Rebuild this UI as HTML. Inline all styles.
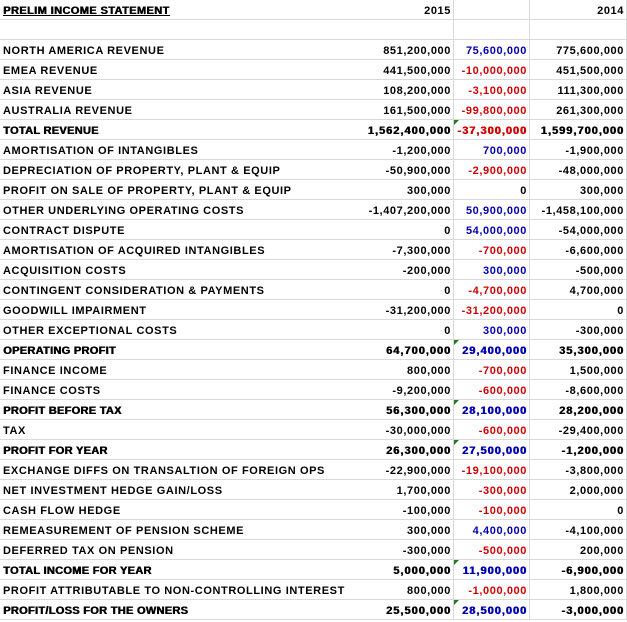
<!DOCTYPE html>
<html><head><meta charset="utf-8"><style>
body{margin:0;width:627px;height:622px;background:#fff;overflow:hidden;font-family:"Liberation Sans",Arial,sans-serif;}
#sheet{position:relative;width:627px;height:622px;}
.c{position:absolute;height:20px;line-height:22px;font-size:11px;font-weight:bold;color:#000;white-space:nowrap;box-sizing:border-box;border-bottom:1px solid #d9d9d9;}
.l{padding-left:3px;letter-spacing:0.6px;}
.r{text-align:right;padding-right:2px;border-right:1px solid #d9d9d9;letter-spacing:0.6px;}
.b{text-shadow:0.6px 0 0 currentColor;}
.l.b{letter-spacing:0.3px;}
.r.b{letter-spacing:1px;}
.pos{color:#0000b0;}
.neg{color:#d00000;}
.tri{position:absolute;left:0;top:0;width:0;height:0;border-top:5px solid #1e7b1e;border-right:5px solid transparent;}
</style></head><body>
<div id="sheet"></div>
<script>
const labels=["NORTH AMERICA REVENUE","EMEA REVENUE","ASIA REVENUE","AUSTRALIA REVENUE","TOTAL REVENUE","AMORTISATION OF INTANGIBLES","DEPRECIATION OF PROPERTY, PLANT & EQUIP","PROFIT ON SALE OF PROPERTY, PLANT & EQUIP","OTHER UNDERLYING OPERATING COSTS","CONTRACT DISPUTE","AMORTISATION OF ACQUIRED INTANGIBLES","ACQUISITION COSTS","CONTINGENT CONSIDERATION & PAYMENTS","GOODWILL IMPAIRMENT","OTHER EXCEPTIONAL COSTS","OPERATING PROFIT","FINANCE INCOME","FINANCE COSTS","PROFIT BEFORE TAX","TAX","PROFIT FOR YEAR","EXCHANGE DIFFS ON TRANSALTION OF FOREIGN OPS","NET INVESTMENT HEDGE GAIN/LOSS","CASH FLOW HEDGE","REMEASUREMENT OF PENSION SCHEME","DEFERRED TAX ON PENSION","TOTAL INCOME FOR YEAR","PROFIT ATTRIBUTABLE TO NON-CONTROLLING INTEREST","PROFIT/LOSS FOR THE OWNERS"];
const v2015=[851200000,441500000,108200000,161500000,1562400000,-1200000,-50900000,300000,-1407200000,0,-7300000,-200000,0,-31200000,0,64700000,800000,-9200000,56300000,-30000000,26300000,-22900000,1700000,-100000,300000,-300000,5000000,800000,25500000];
const vDiff=[75600000,-10000000,-3100000,-99800000,-37300000,700000,-2900000,0,50900000,54000000,-700000,300000,-4700000,-31200000,300000,29400000,-700000,-600000,28100000,-600000,27500000,-19100000,-300000,-100000,4400000,-500000,11900000,-1000000,28500000];
const v2014=[775600000,451500000,111300000,261300000,1599700000,-1900000,-48000000,300000,-1458100000,-54000000,-6600000,-500000,4700000,0,-300000,35300000,1500000,-8600000,28200000,-29400000,-1200000,-3800000,2000000,0,-4100000,200000,-6900000,1800000,-3000000];
const boldRows=[4,15,18,20,26,28];
const cols=[{x:0,w:360},{x:360,w:94},{x:454,w:76},{x:530,w:97}];
const sheet=document.getElementById('sheet');
function fmt(n){return (n<0?'-':'')+Math.abs(n).toLocaleString('en-US');}
function cell(ci,row,text,cls,name){
  const d=document.createElement('div');
  d.className='c '+cls;
  d.style.left=cols[ci].x+'px';d.style.top=(row*20)+'px';d.style.width=cols[ci].w+'px';
  d.textContent=text;
  
  
  sheet.appendChild(d);return d;
}
const t=cell(0,0,'PRELIM INCOME STATEMENT','l b','title-cell');t.style.textDecoration='underline';t.style.letterSpacing='0.4px';
cell(1,0,'2015','r','header-2015');cell(2,0,'','r','header-variance');cell(3,0,'2014','r','header-2014');
cell(0,1,'','l','blank-label');cell(1,1,'','r','blank-2015');cell(2,1,'','r','blank-variance');cell(3,1,'','r','blank-2014');
labels.forEach((lab,i)=>{
  const row=i+2,b=boldRows.includes(i)?' b':'';
  cell(0,row,lab,'l'+b,'row-label');
  cell(1,row,fmt(v2015[i]),'r'+b,'value-2015');
  const dv=vDiff[i];
  const d=cell(2,row,fmt(dv),'r'+b+(dv>0?' pos':dv<0?' neg':''),'value-variance');
  if(b){const tr=document.createElement('div');tr.className='tri';
    
    
    d.appendChild(tr);}
  cell(3,row,fmt(v2014[i]),'r'+b,'value-2014');
});
</script>
</body></html>
